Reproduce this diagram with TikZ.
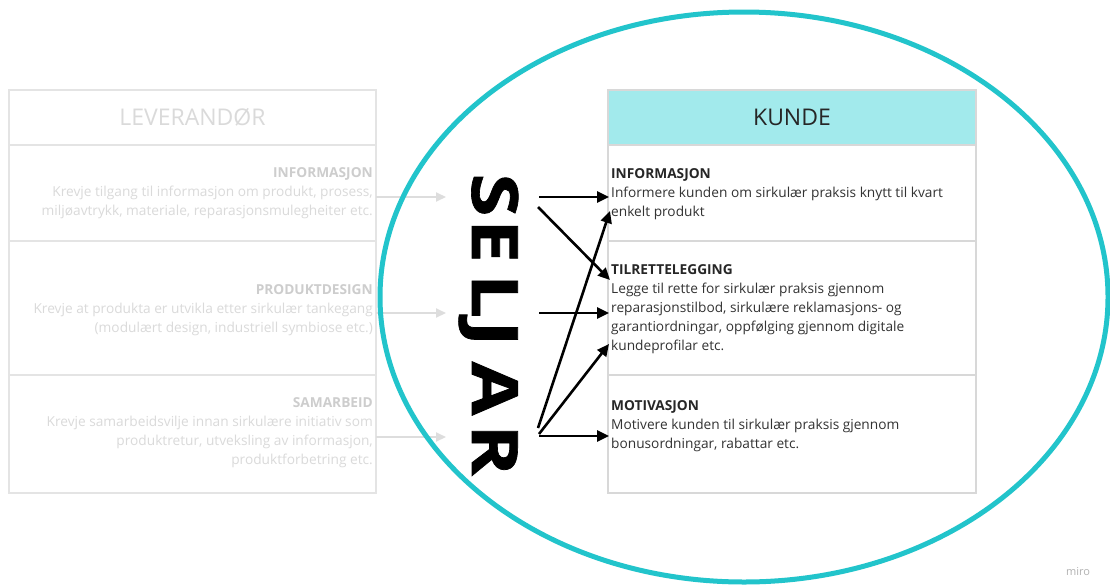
\documentclass[tikz,border=0pt]{standalone}
\usepackage{fontspec}
\setmainfont{Open Sans}
\usetikzlibrary{arrows.meta}
\definecolor{ringcyan}{HTML}{22C4CB}
\definecolor{headfill}{HTML}{A2EAEC}
\definecolor{fadeline}{HTML}{E4E4E4}
\definecolor{fadetitle}{HTML}{CDCDCD}
\definecolor{fadetext}{HTML}{DADADA}
\definecolor{kundeline}{HTML}{D8D8D8}
\definecolor{darktext}{HTML}{262626}
\definecolor{bodytext}{HTML}{333333}
\definecolor{fadearrow}{HTML}{DDDDDD}
\tikzset{
  leftblock/.style={anchor=north east, align=right, inner sep=0pt, text=fadetext,
    font=\fontsize{13.7}{19}\selectfont},
  rightblock/.style={anchor=north west, align=left, inner sep=0pt, text=bodytext,
    font=\fontsize{13.7}{19}\selectfont},
  headtext/.style={inner sep=0pt, font=\fontsize{23}{27}\selectfont},
  seljarletter/.style={rotate=-90, anchor=base, inner sep=0pt, text=black,
    font=\fontsize{64}{70}\selectfont\bfseries\addfontfeature{FakeBold=1}},
  blackarrow/.style={draw=black, line width=2.6pt, -{Triangle[length=12pt,width=11pt]}},
  greyarrow/.style={draw=fadearrow, line width=2pt, -{Triangle[length=10pt,width=9pt]}},
}
\begin{document}
\begin{tikzpicture}[x=1pt,y=-1pt]
\useasboundingbox[fill=white] (0,0) rectangle (1110,584);

% left table
\draw[fadeline, line width=1.5pt] (9,90) rectangle (376,493);
\draw[fadeline, line width=1.2pt] (9,145) -- (376,145);
\draw[fadeline, line width=1.2pt] (9,241) -- (376,241);
\draw[fadeline, line width=1.2pt] (9,375) -- (376,375);

% right table
\fill[headfill] (608,90) rectangle (976,145);
\draw[kundeline, line width=1.2pt] (608,90) rectangle (976,493);
\draw[kundeline, line width=1.2pt] (608,145) -- (976,145);
\draw[kundeline, line width=1.2pt] (608,241) -- (976,241);
\draw[kundeline, line width=1.2pt] (608,375) -- (976,375);

% grey arrows
\coordinate (g1s) at (376,197); \coordinate (g1e) at (446,197);
\coordinate (g2s) at (376,313); \coordinate (g2e) at (446,313);
\coordinate (g3s) at (376,437); \coordinate (g3e) at (446,437);
\draw[greyarrow] (g1s) -- (g1e);
\draw[greyarrow] (g2s) -- (g2e);
\draw[greyarrow] (g3s) -- (g3e);

% ring
\draw[ringcyan, line width=5pt] (744,297) ellipse [x radius=364pt, y radius=285pt];

% headers
\node[headtext, text=fadetext] (lev) at (192.5,117) {LEVERANDØR};
\node[headtext, text=darktext] (kunde) at (792,117) {KUNDE};

% SELJAR
\foreach \ch/\yy [count=\i] in {S/195,E/241,L/296,J/333.5,A/388.5,R/450}
  \node[seljarletter] (sel\i) at (472,\yy) {\scalebox{1.22}[1]{\ch}};

% left texts
\node[leftblock] (linfo) at (373,164.2) {\strut\textcolor{fadetitle}{\bfseries INFORMASJON}\\
  Krevje tilgang til informasjon om produkt, prosess,\\
  miljøavtrykk, materiale, reparasjonsmulegheiter etc.};
\node[leftblock] (lprod) at (373,281.2) {\strut\textcolor{fadetitle}{\bfseries PRODUKTDESIGN}\\
  Krevje at produkta er utvikla etter sirkulær tankegang\\
  (modulært design, industriell symbiose etc.)};
\node[leftblock] (lsam) at (373,394.2) {\strut\textcolor{fadetitle}{\bfseries SAMARBEID}\\
  Krevje samarbeidsvilje innan sirkulære initiativ som\\
  produktretur, utveksling av informasjon,\\
  produktforbetring etc.};

% right texts
\node[rightblock] (rinfo) at (611,165.2) {\strut\textcolor{darktext}{\bfseries INFORMASJON}\\
  Informere kunden om sirkulær praksis knytt til kvart\\
  enkelt produkt};
\node[rightblock] (rtil) at (611,261.2) {\strut\textcolor{darktext}{\bfseries TILRETTELEGGING}\\
  Legge til rette for sirkulær praksis gjennom\\
  reparasjonstilbod, sirkulære reklamasjons- og\\
  garantiordningar, oppfølging gjennom digitale\\
  kundeprofilar etc.};
\node[rightblock] (rmot) at (611,397.2) {\strut\textcolor{darktext}{\bfseries MOTIVASJON}\\
  Motivere kunden til sirkulær praksis gjennom\\
  bonusordningar, rabattar etc.};

% black arrows
\coordinate (a1s) at (539,197); \coordinate (a1e) at (609,197);
\coordinate (a2s) at (538,207); \coordinate (a2e) at (610,280);
\coordinate (a3s) at (539,313); \coordinate (a3e) at (609,313);
\coordinate (a4s) at (538,428); \coordinate (a4e) at (610,211);
\coordinate (a5s) at (539,434); \coordinate (a5e) at (609,344);
\coordinate (a6s) at (539,436); \coordinate (a6e) at (609,436);
\draw[blackarrow] (a1s) -- (a1e);
\draw[blackarrow] (a2s) -- (a2e);
\draw[blackarrow] (a3s) -- (a3e);
\draw[blackarrow] (a4s) -- (a4e);
\draw[blackarrow] (a5s) -- (a5e);
\draw[blackarrow] (a6s) -- (a6e);

\node[text=black!30, inner sep=0pt, font=\fontsize{11}{13}\selectfont] (miro) at (1078,572) {miro};
\end{tikzpicture}
\end{document}
